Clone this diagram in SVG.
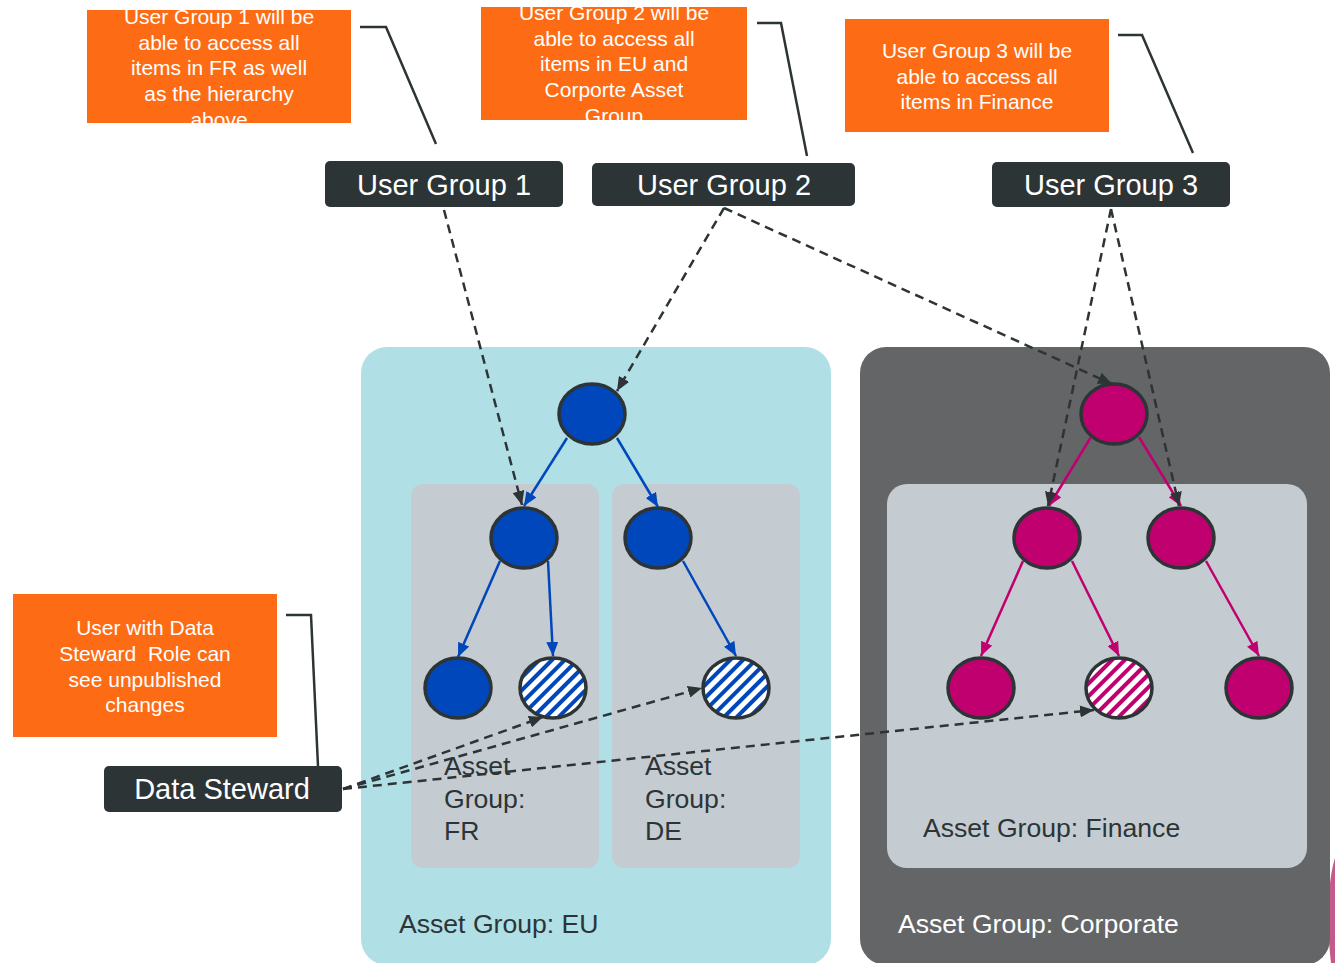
<svg xmlns="http://www.w3.org/2000/svg" width="1335" height="963" viewBox="0 0 1335 963">
<style>
.note{fill:#fd6c14}
.nt{font-family:"Liberation Sans",Arial,sans-serif;font-size:21px;fill:#ffffff;text-anchor:middle;white-space:pre}
.lbl{fill:#2d3436}
.lt{font-family:"Liberation Sans",Arial,sans-serif;font-size:29px;fill:#ffffff;text-anchor:middle}
.ct{font-family:"Liberation Sans",Arial,sans-serif;font-size:26.6px;fill:#2d3436}
.callout{fill:none;stroke:#2d3436;stroke-width:2.5}
.sub{fill:#c4ccd2}
.bn{fill:#0047bb;stroke:#2d3436;stroke-width:3.5}
.pn{fill:#c0006f;stroke:#2d3436;stroke-width:3.5}
.bh{fill:url(#hatchB);stroke:#2d3436;stroke-width:3.5}
.ph{fill:url(#hatchP);stroke:#2d3436;stroke-width:3.5}
.ba{stroke:#0047bb;stroke-width:2.5;fill:none;marker-end:url(#arrB)}
.pa{stroke:#c0006f;stroke-width:2.5;fill:none;marker-end:url(#arrP)}
.da{stroke:#2d3436;stroke-width:2.5;fill:none;stroke-dasharray:9 6;marker-end:url(#arrD)}
</style>
<defs>
<pattern id="hatchB" patternUnits="userSpaceOnUse" width="9" height="9" patternTransform="rotate(45)">
<rect width="9" height="9" fill="#ffffff"/><rect width="4" height="9" fill="#0047bb"/>
</pattern>
<pattern id="hatchP" patternUnits="userSpaceOnUse" width="9" height="9" patternTransform="rotate(45)">
<rect width="9" height="9" fill="#ffffff"/><rect width="4" height="9" fill="#c0006f"/>
</pattern>
<marker id="arrB" markerUnits="userSpaceOnUse" viewBox="0 0 14 12" refX="14" refY="6" markerWidth="14" markerHeight="12" orient="auto"><path d="M0,0 L14,6 L0,12 z" fill="#0047bb"/></marker>
<marker id="arrP" markerUnits="userSpaceOnUse" viewBox="0 0 14 12" refX="14" refY="6" markerWidth="14" markerHeight="12" orient="auto"><path d="M0,0 L14,6 L0,12 z" fill="#c0006f"/></marker>
<marker id="arrD" markerUnits="userSpaceOnUse" viewBox="0 0 14 12" refX="14" refY="6" markerWidth="14" markerHeight="12" orient="auto"><path d="M0,0 L14,6 L0,12 z" fill="#2d3436"/></marker>
<clipPath id="c1"><rect x="87" y="10" width="264" height="113"/></clipPath>
<clipPath id="c2"><rect x="481" y="7" width="266" height="113"/></clipPath>
</defs>
<rect width="1335" height="963" fill="#ffffff"/>

<!-- background fragment at right edge -->
<path d="M1335,858 C1328,880 1326,920 1331,963 L1335,963 Z" fill="#c45a8a"/>

<g id="group-eu">
<rect x="361" y="347" width="470" height="618" rx="26" fill="#b0dfe6"/>
<text class="ct" x="399" y="933">Asset Group: EU</text>
</g>
<g id="group-fr">
<rect class="sub" x="411" y="484" width="188" height="384" rx="12"/>
<text class="ct" x="444"><tspan x="444" y="775">Asset</tspan><tspan x="444" y="808">Group:</tspan><tspan x="444" y="840">FR</tspan></text>
</g>
<g id="group-de">
<rect class="sub" x="612" y="484" width="188" height="384" rx="12"/>
<text class="ct" x="645"><tspan x="645" y="775">Asset</tspan><tspan x="645" y="808">Group:</tspan><tspan x="645" y="840">DE</tspan></text>
</g>
<g id="group-corporate">
<rect x="860" y="347" width="470" height="618" rx="26" fill="#646567"/>
<text class="ct" x="898" y="933" style="fill:#ffffff">Asset Group: Corporate</text>
</g>
<g id="group-finance">
<rect class="sub" x="887" y="484" width="420" height="384" rx="20"/>
<text class="ct" x="923" y="837">Asset Group: Finance</text>
</g>

<g id="note1">
<rect class="note" x="87" y="10" width="264" height="113"/>
<text class="nt" clip-path="url(#c1)"><tspan x="219" y="24">User Group 1 will be</tspan><tspan x="219" y="49.7">able to access all</tspan><tspan x="219" y="75.4">items in FR as well</tspan><tspan x="219" y="101">as the hierarchy</tspan><tspan x="219" y="126.8">above</tspan></text>
<path class="callout" d="M360,27 L386,27 L436,144"/>
</g>
<g id="note2">
<rect class="note" x="481" y="7" width="266" height="113"/>
<text class="nt" clip-path="url(#c2)"><tspan x="614" y="20">User Group 2 will be</tspan><tspan x="614" y="45.7">able to access all</tspan><tspan x="614" y="71.4">items in EU and</tspan><tspan x="614" y="97">Corporte Asset</tspan><tspan x="614" y="122.7">Group</tspan></text>
<path class="callout" d="M757,23 L781,23 L807,156"/>
</g>
<g id="note3">
<rect class="note" x="845" y="19" width="264" height="113"/>
<text class="nt"><tspan x="977" y="58">User Group 3 will be</tspan><tspan x="977" y="83.5">able to access all</tspan><tspan x="977" y="109">items in Finance</tspan></text>
<path class="callout" d="M1118,35 L1142,35 L1193,153"/>
</g>
<g id="note4">
<rect class="note" x="13" y="594" width="264" height="143"/>
<text class="nt"><tspan x="145" y="635">User with Data</tspan><tspan x="145" y="661">Steward  Role can</tspan><tspan x="145" y="687">see unpublished</tspan><tspan x="145" y="712">changes</tspan></text>
<path class="callout" d="M286,615 L311,615 L318,766"/>
</g>

<g id="user-group-1">
<rect class="lbl" x="325" y="161" width="238" height="46" rx="5"/>
<text class="lt" x="444" y="195">User Group 1</text>
</g>
<g id="user-group-2">
<rect class="lbl" x="592" y="163" width="263" height="43" rx="5"/>
<text class="lt" x="724" y="195">User Group 2</text>
</g>
<g id="user-group-3">
<rect class="lbl" x="992" y="162" width="238" height="45" rx="5"/>
<text class="lt" x="1111" y="195">User Group 3</text>
</g>
<g id="data-steward">
<rect class="lbl" x="104" y="766" width="238" height="46" rx="5"/>
<text class="lt" x="222" y="799">Data Steward</text>
</g>

<g id="eu-root"><ellipse class="bn" cx="592" cy="414" rx="33" ry="30"/></g>
<g id="fr-mid"><ellipse class="bn" cx="524" cy="538" rx="33" ry="30"/></g>
<g id="de-mid"><ellipse class="bn" cx="658" cy="538" rx="33" ry="30"/></g>
<g id="fr-leaf-1"><ellipse class="bn" cx="458" cy="688" rx="33" ry="30"/></g>
<g id="fr-leaf-2"><ellipse class="bh" cx="553" cy="688" rx="33" ry="30"/></g>
<g id="de-leaf"><ellipse class="bh" cx="736" cy="688" rx="33" ry="30"/></g>
<g id="fin-root"><ellipse class="pn" cx="1114" cy="414" rx="33" ry="30"/></g>
<g id="fin-mid-1"><ellipse class="pn" cx="1047" cy="538" rx="33" ry="30"/></g>
<g id="fin-mid-2"><ellipse class="pn" cx="1181" cy="538" rx="33" ry="30"/></g>
<g id="fin-leaf-1"><ellipse class="pn" cx="981" cy="688" rx="33" ry="30"/></g>
<g id="fin-leaf-2"><ellipse class="ph" cx="1119" cy="688" rx="33" ry="30"/></g>
<g id="fin-leaf-3"><ellipse class="pn" cx="1259" cy="688" rx="33" ry="30"/></g>

<g id="connectors">
<path class="ba" d="M567,438 L524,506"/>
<path class="ba" d="M617,438 L658,507"/>
<path class="ba" d="M500,561 L458,657"/>
<path class="ba" d="M548,561 L553,656"/>
<path class="ba" d="M683,561 L736,656"/>
<path class="pa" d="M1091,437 L1049,506"/>
<path class="pa" d="M1139,437 L1181,506"/>
<path class="pa" d="M1023,561 L981,656"/>
<path class="pa" d="M1072,561 L1119,656"/>
<path class="pa" d="M1206,561 L1259,656"/>
<path class="da" d="M444,210 L522,505"/>
<path class="da" d="M724,208 L617,391"/>
<path class="da" d="M724,208 L1112,384"/>
<path class="da" d="M1111,209 L1048,506"/>
<path class="da" d="M1111,209 L1179,506"/>
<path class="da" d="M343,789 L543,717"/>
<path class="da" d="M343,789 L702,688"/>
<path class="da" d="M343,789 L1094,710"/>
</g>
</svg>
